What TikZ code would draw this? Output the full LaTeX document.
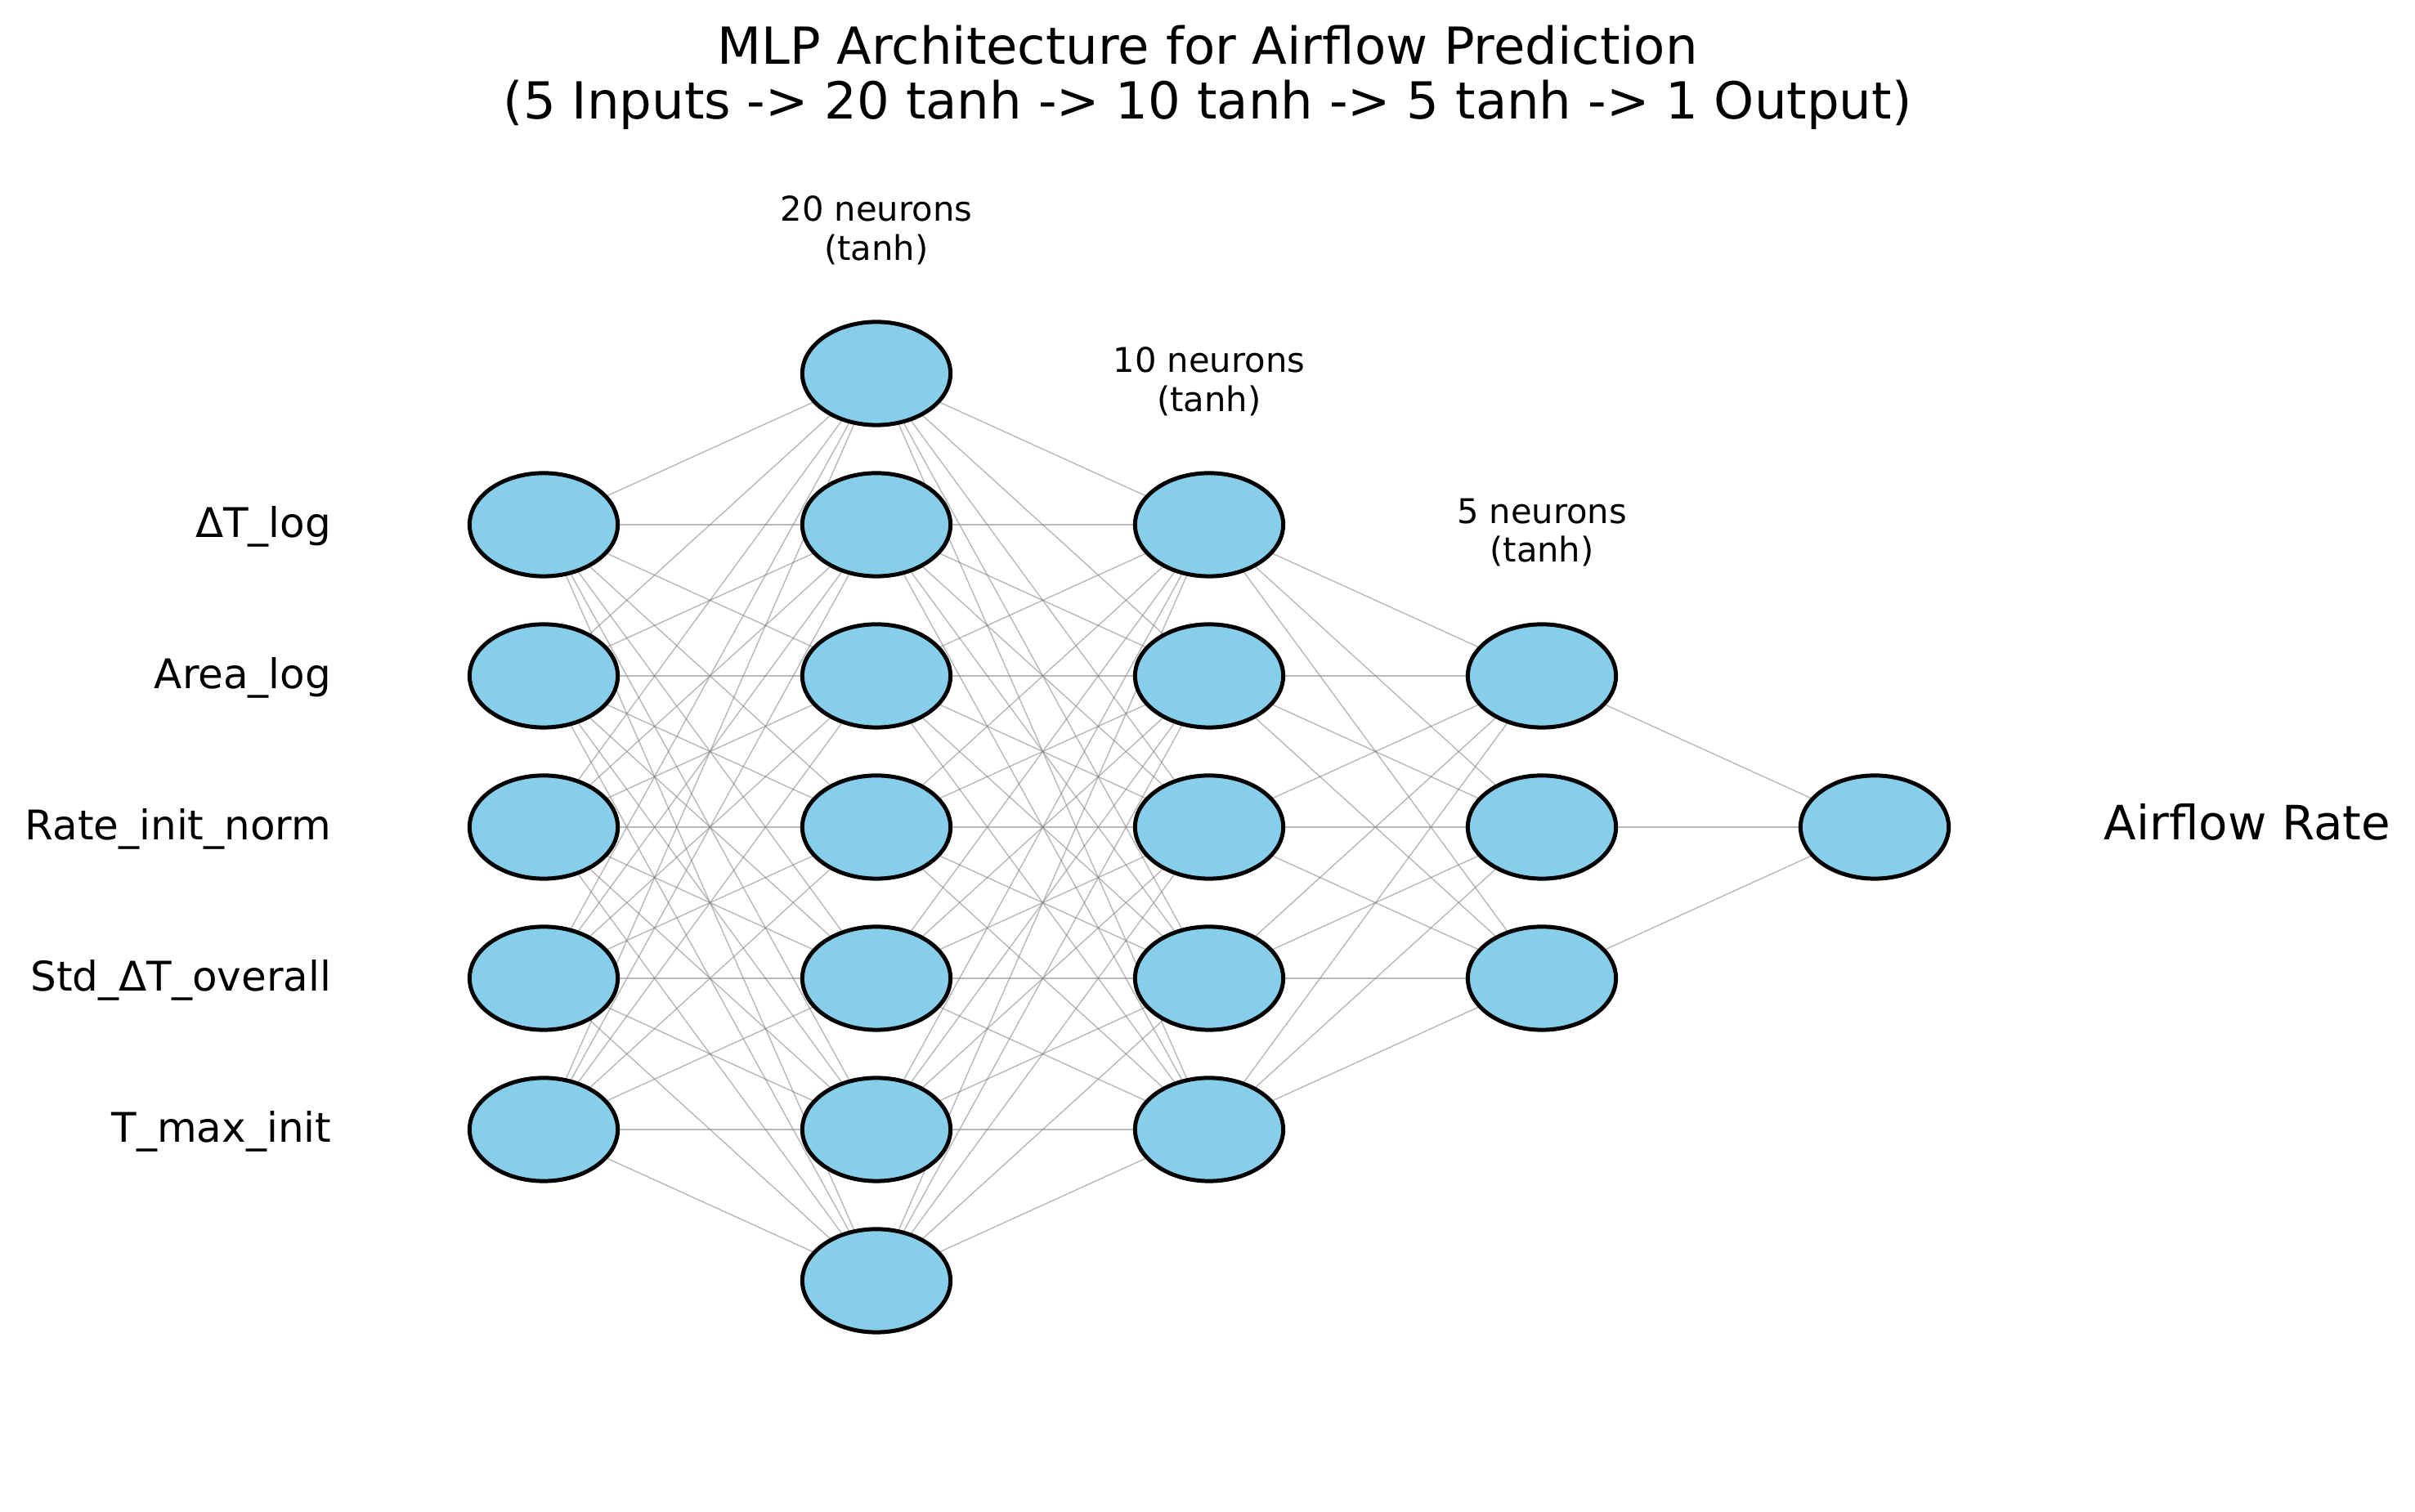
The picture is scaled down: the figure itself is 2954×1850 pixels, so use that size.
\documentclass[tikz,border=0pt]{standalone}
\usepackage{fontspec}
\setmainfont{DejaVu Sans}
\usetikzlibrary{shapes.geometric,backgrounds}
\definecolor{skyblue}{HTML}{87CEEB}
\tikzset{
  neuron/.style={ellipse, draw=black, line width=1.2pt, fill=skyblue,
    inner sep=0pt, minimum width=43.5pt, minimum height=30.3pt},
  synapse/.style={draw=gray, draw opacity=0.55, line width=0.35pt},
  inlabel/.style={anchor=base east, inner sep=0pt, font=\fontsize{12}{14.4}\selectfont},
  layerlabel/.style={anchor=north, align=center, inner sep=0pt, font=\fontsize{10}{11.4}\selectfont},
  titletext/.style={anchor=north, align=center, inner sep=0pt, font=\fontsize{15}{16.25}\selectfont}
}
\begin{document}
\begin{tikzpicture}[x=0.24pt,y=0.24pt]
\useasboundingbox (0,0) rectangle (2954,1850);
\node[titletext] (title) at (1477,1820.2) {MLP Architecture for Airflow Prediction\\(5 Inputs -> 20 tanh -> 10 tanh -> 5 tanh -> 1 Output)};
\foreach \i in {1,...,5} \node[neuron] (in\i) at (665,{838+185*(3-\i)}) {};
\foreach \i in {1,...,7} \node[neuron] (ha\i) at (1072,{838+185*(4-\i)}) {};
\foreach \i in {1,...,5} \node[neuron] (hb\i) at (1479,{838+185*(3-\i)}) {};
\foreach \i in {1,...,3} \node[neuron] (hc\i) at (1886,{838+185*(2-\i)}) {};
\node[neuron] (out) at (2293,838) {};
\foreach \txt [count=\i] in {ΔT\_log, Area\_log, Rate\_init\_norm, Std\_ΔT\_overall, T\_max\_init}
  \node[inlabel] (lab\i) at (406,{838+185*(3-\i)-15.5}) {\txt};
\node[anchor=base west, inner sep=0pt, font=\fontsize{13.9}{16}\selectfont] (outlab) at (2573,822) {Airflow Rate};
\node[layerlabel] (lbla) at (1072,1611) {20 neurons\\(tanh)};
\node[layerlabel] (lblb) at (1479,1426) {10 neurons\\(tanh)};
\node[layerlabel] (lblc) at (1886,1241) {5 neurons\\(tanh)};
\begin{pgfonlayer}{background}
\foreach \i in {1,...,5} \foreach \j in {1,...,7} \draw[synapse] (in\i) -- (ha\j);
\foreach \i in {1,...,7} \foreach \j in {1,...,5} \draw[synapse] (ha\i) -- (hb\j);
\foreach \i in {1,...,5} \foreach \j in {1,...,3} \draw[synapse] (hb\i) -- (hc\j);
\foreach \i in {1,...,3} \draw[synapse] (hc\i) -- (out);
\end{pgfonlayer}
\end{tikzpicture}
\end{document}
